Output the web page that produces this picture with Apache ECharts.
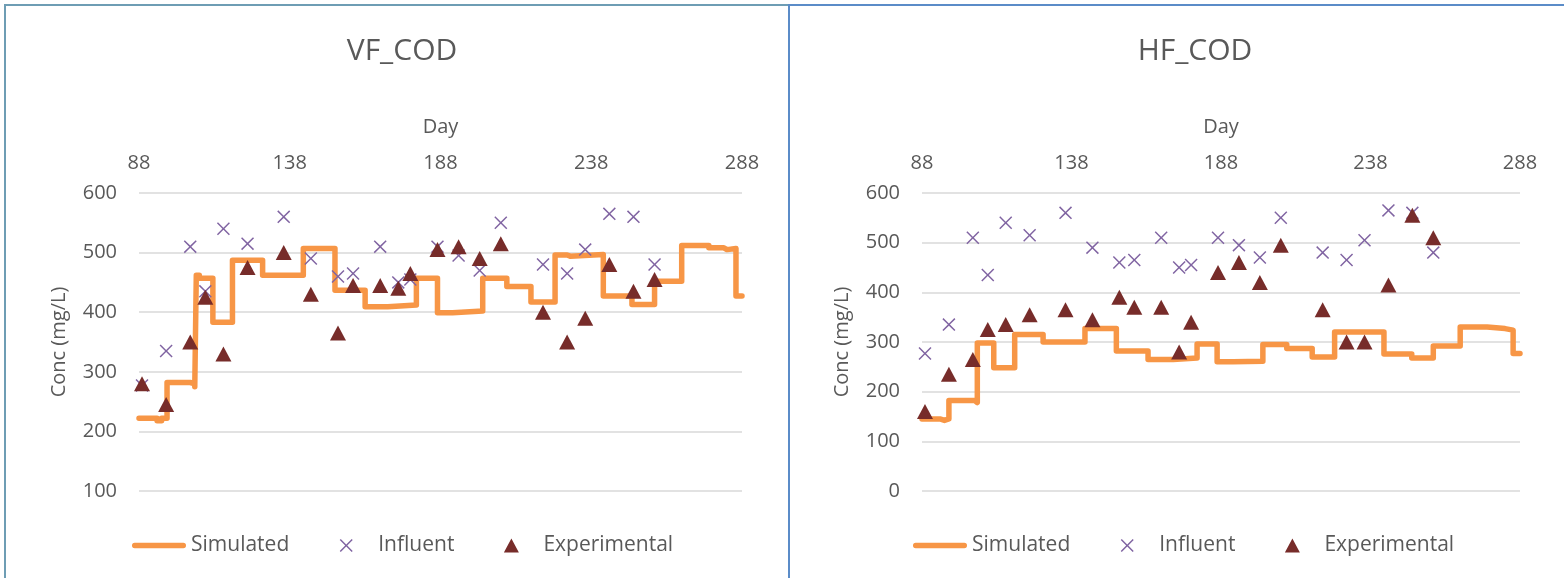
<!DOCTYPE html>
<html>
<head>
<meta charset="utf-8">
<script src="https://cdn.jsdelivr.net/npm/echarts@6/dist/echarts.min.js"></script>
<style>
html,body{margin:0;padding:0;background:#fff;}
#c{width:1564px;height:578px;}
</style>
</head>
<body>
<div id="c"></div>
<script>
// ---- data ----
const xTicks = [88, 138, 188, 238, 288];
const sampleDays = [89, 97, 105, 110, 116, 124, 136, 145, 154, 159, 168, 174, 178, 187, 194, 201, 208, 222, 230, 236, 244, 252, 259];
const influent = [277, 335, 510, 435, 540, 515, 560, 490, 460, 465, 510, 450, 455, 510, 495, 470, 550, 480, 465, 505, 565, 560, 480];
const expVF = [280, 245, 350, 425, 330, 475, 500, 430, 365, 445, 445, 440, 465, 505, 510, 490, 515, 400, 350, 390, 480, 435, 455];
const expHF = [160, 235, 265, 325, 335, 355, 365, 345, 390, 370, 370, 280, 340, 440, 460, 420, 495, 365, 300, 300, 415, 555, 510];

const simDayVF = [88, 94, 95.5, 97.3, 105, 106.5, 107, 108, 112.5, 119, 129, 142.5, 153, 163, 170.5, 180, 187, 192, 202, 210, 218, 226, 230, 231, 242, 251.5, 259, 268, 277, 282, 283, 286, 288];
const simValVF = [222, 218, 222, 282, 280, 275, 462, 457, 383, 487, 462, 507, 437, 409, 412, 457, 399, 402, 457, 443, 417, 496, 494, 497, 427, 413, 452, 512, 508, 505, 507, 427, 427];

const simDayHF = [88, 94, 95.5, 97, 105.7, 106.5, 112, 119, 128.5, 142.5, 153, 163.6, 172, 180, 186.7, 192, 202, 210, 218.5, 226, 242.5, 251.8, 259, 268, 277, 283, 285.7, 288];
const simValHF = [145, 142, 145, 182, 178, 298, 248, 315, 300, 327, 282, 265, 268, 296, 260, 261, 295, 287, 270, 320, 276, 268, 292, 330, 327, 324, 277, 277];

const zip = (a, b) => a.map((v, i) => [v, b[i]]);

const FONT = 'Open Sans';
const TXT = '#595959';
const ORANGE = '#F79646';
const PURPLE = '#8064A2';
const DARKRED = '#772C2A';
const CROSS = 'path://M0,8L8,0L50,42L92,0L100,8L58,50L100,92L92,100L50,58L8,100L0,92L42,50Z';
// legend icons (degenerate corner segments fix the bounding box to 54x14)
const BOX = 'M0,0L0.01,0L0,0.01ZM54,14L53.99,14L54,13.99Z';
const LEG_LINE = 'path://' + BOX + 'M2.5,4.3H51.5A2.7,2.7,0,0,1,51.5,9.7H2.5A2.7,2.7,0,0,1,2.5,4.3Z';
const LEG_CROSS = 'path://' + BOX + 'M20.5,1.55L21.55,0.5L27,5.95L32.45,0.5L33.5,1.55L28.05,7L33.5,12.45L32.45,13.5L27,8.05L21.55,13.5L20.5,12.45L25.95,7Z';
const LEG_TRI = 'path://' + BOX + 'M19.5,14L27,0L34.5,14Z';

function xAxis(gi) {
  return {
    type: 'value', gridIndex: gi, position: 'top', min: 88, max: 288,
    name: 'Day', nameLocation: 'middle', nameGap: 56,
    nameTextStyle: {color: TXT, fontFamily: FONT, fontSize: 20},
    axisLine: {show: false}, axisTick: {show: false}, splitLine: {show: false},
    axisLabel: {customValues: xTicks, color: TXT, fontFamily: FONT, fontSize: 20, margin: 20}
  };
}
function yAxis(gi, min) {
  return {
    type: 'value', gridIndex: gi, min: min, max: 600, interval: 100,
    name: 'Conc (mg/L)', nameLocation: 'middle', nameGap: 70,
    nameTextStyle: {color: TXT, fontFamily: FONT, fontSize: 20},
    axisLine: {show: false}, axisTick: {show: false},
    splitLine: {lineStyle: {color: '#D9D9D9', width: 1.5}},
    axisLabel: {color: TXT, fontFamily: FONT, fontSize: 20, margin: 22}
  };
}
function series(gi, sim, exp) {
  return [
    {name: 'Simulated', type: 'line', xAxisIndex: gi, yAxisIndex: gi, step: 'end',
     data: sim, showSymbol: false, symbol: 'none',
     lineStyle: {color: ORANGE, width: 5.5, cap: 'round', join: 'round'}, itemStyle: {color: ORANGE}, z: 2},
    {name: 'Influent', type: 'scatter', xAxisIndex: gi, yAxisIndex: gi,
     data: zip(sampleDays, influent), symbol: CROSS, symbolSize: 13,
     itemStyle: {color: PURPLE, opacity: 1}, z: 3},
    {name: 'Experimental', type: 'scatter', xAxisIndex: gi, yAxisIndex: gi,
     data: zip(sampleDays, exp), symbol: 'triangle', symbolSize: [16, 15],
     itemStyle: {color: DARKRED, opacity: 1}, z: 4}
  ];
}
function legend(left) {
  return {
    left: left, top: 535, padding: 0, itemWidth: 54, itemHeight: 14, itemGap: 30,
    textStyle: {color: TXT, fontFamily: FONT, fontSize: 21},
    data: [
      {name: 'Simulated', icon: LEG_LINE, itemStyle: {color: ORANGE}},
      {name: 'Influent', icon: LEG_CROSS, itemStyle: {color: PURPLE}},
      {name: 'Experimental', icon: LEG_TRI, itemStyle: {color: DARKRED}}
    ],
    selectedMode: false
  };
}

const chart = echarts.init(document.getElementById('c'), null, {renderer: 'canvas'});
chart.setOption({
  backgroundColor: '#fff',
  animation: false,
  title: [
    {text: 'VF_COD', left: 397, top: 31, textAlign: 'center', textStyle: {color: TXT, fontFamily: FONT, fontSize: 30, fontWeight: 'normal'}},
    {text: 'HF_COD', left: 1190, top: 31, textAlign: 'center', textStyle: {color: TXT, fontFamily: FONT, fontSize: 30, fontWeight: 'normal'}}
  ],
  graphic: [
    {type: 'rect', shape: {x: 5, y: 5, width: 784, height: 590}, style: {fill: 'none', stroke: '#6E9DB4', lineWidth: 2}, z: 100},
    {type: 'rect', shape: {x: 789, y: 5, width: 800, height: 590}, style: {fill: 'none', stroke: '#5B8CC8', lineWidth: 2}, z: 100}
  ],
  grid: [
    {left: 139, width: 603, top: 193, height: 298},
    {left: 922, width: 598, top: 193, height: 298}
  ],
  xAxis: [xAxis(0), xAxis(1)],
  yAxis: [yAxis(0, 100), yAxis(1, 0)],
  legend: [legend(132), legend(913)],
  series: [...series(0, zip(simDayVF, simValVF), expVF), ...series(1, zip(simDayHF, simValHF), expHF)]
});
</script>
</body>
</html>
